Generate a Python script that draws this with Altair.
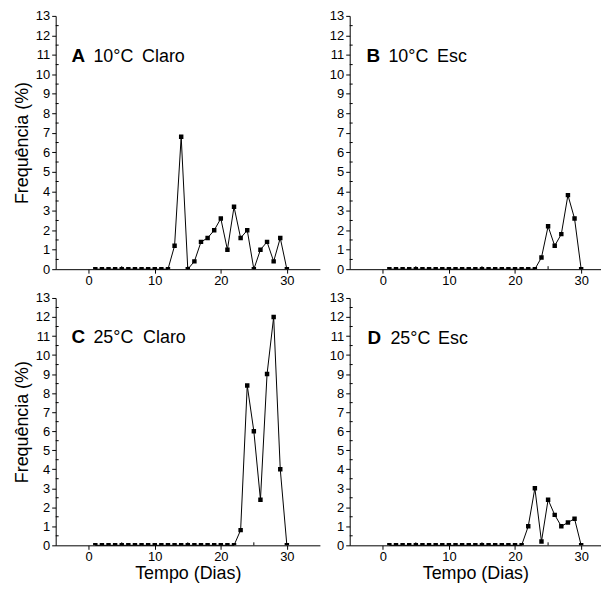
import altair as alt
import pandas as pd

days = list(range(1, 31))
freq_a = [0, 0, 0, 0, 0, 0, 0, 0, 0, 0, 0, 0, 1.2, 6.8, 0, 0.4, 1.4, 1.6, 2.0, 2.6,
          1.0, 3.2, 1.6, 2.0, 0, 1.0, 1.4, 0.4, 1.6, 0]
freq_b = [0, 0, 0, 0, 0, 0, 0, 0, 0, 0, 0, 0, 0, 0, 0, 0, 0, 0, 0, 0,
          0, 0, 0, 0.6, 2.2, 1.2, 1.8, 3.8, 2.6, 0]
freq_c = [0, 0, 0, 0, 0, 0, 0, 0, 0, 0, 0, 0, 0, 0, 0, 0, 0, 0, 0, 0,
          0, 0, 0.8, 8.4, 6.0, 2.4, 9.0, 12.0, 4.0, 0]
freq_d = [0, 0, 0, 0, 0, 0, 0, 0, 0, 0, 0, 0, 0, 0, 0, 0, 0, 0, 0, 0,
          0, 1.0, 3.0, 0.2, 2.4, 1.6, 1.0, 1.2, 1.4, 0]

panel_letters = ["A", "B", "C", "D"]
panel_temps = ["10°C", "10°C", "25°C", "25°C"]
panel_light = ["Claro", "Esc", "Claro", "Esc"]

y_ticks = list(range(0, 14))
y_minor = [0.5, 1.5, 2.5, 3.5, 4.5, 5.5, 6.5, 7.5, 8.5, 9.5, 10.5, 11.5, 12.5]
x_ticks = [0, 10, 20, 30]
x_minor = [5, 15, 25]

FONT = "Liberation Sans"


def panel(values, idx, w, h, xmax, ytitle, xtitle, tx):
    df = pd.DataFrame({"dia": days, "freq": values})
    xs = alt.Scale(domain=[-5, xmax], nice=False, zero=False)
    ys = alt.Scale(domain=[0, 13], nice=False)
    if xtitle:
        xaxis = alt.Axis(values=x_ticks, title=xtitle, titlePadding=1, labelPadding=1)
    else:
        xaxis = alt.Axis(values=x_ticks, title=None, labelPadding=1)
    if ytitle:
        yaxis = alt.Axis(values=y_ticks, title=ytitle, titlePadding=4, labelOverlap=False, labelPadding=2)
    else:
        yaxis = alt.Axis(values=y_ticks, title=None, labelOverlap=False, labelPadding=2)
    x = alt.X("dia:Q", scale=xs, axis=xaxis)
    y = alt.Y("freq:Q", scale=ys, axis=yaxis)
    line = alt.Chart(df).mark_line(color="black", strokeWidth=1).encode(x=x, y=y)
    pts = alt.Chart(df).mark_square(color="black", size=20, opacity=1, clip=True).encode(x=x, y=y)
    ymin = alt.Chart(pd.DataFrame({"v": y_minor})).mark_rule(color="black", strokeWidth=1).encode(
        y=alt.Y("v:Q", scale=ys, axis=yaxis), x=alt.value(0), x2=alt.value(3))
    xmin = alt.Chart(pd.DataFrame({"v": x_minor})).mark_rule(color="black", strokeWidth=1).encode(
        x=alt.X("v:Q", scale=xs, axis=xaxis), y=alt.value(h), y2=alt.value(h - 3))
    lx, tx2, tx3, ty = tx
    lab = pd.DataFrame({"l": [panel_letters[idx]], "t": [panel_temps[idx]], "c": [panel_light[idx]]})
    t1 = alt.Chart(lab).mark_text(font=FONT, fontSize=19, fontWeight="bold", align="left",
                                  baseline="alphabetic", color="black").encode(
        x=alt.value(lx), y=alt.value(ty), text="l:N")
    t2 = alt.Chart(lab).mark_text(font=FONT, fontSize=18, align="left",
                                  baseline="alphabetic", color="black").encode(
        x=alt.value(tx2), y=alt.value(ty), text="t:N")
    t3 = alt.Chart(lab).mark_text(font=FONT, fontSize=18, align="left",
                                  baseline="alphabetic", color="black").encode(
        x=alt.value(tx3), y=alt.value(ty), text="c:N")
    return alt.layer(line, pts, ymin, xmin, t1, t2, t3).properties(width=w, height=h)


pa = panel(freq_a, 0, 266, 255, 35, "Frequência (%)", None, (16, 38, 87, 46))
pb = panel(freq_b, 1, 253, 255, 33, None, None, (17, 39, 88, 46))
pc = panel(freq_c, 2, 266, 249, 35, "Frequência (%)", "Tempo (Dias)", (16, 38, 88, 45))
pd_ = panel(freq_d, 3, 253, 249, 33, None, "Tempo (Dias)", (18, 41, 89, 46))

chart = alt.vconcat(
    alt.hconcat(pa, pb, spacing=9),
    alt.hconcat(pc, pd_, spacing=9),
    spacing=5,
).properties(
    padding={"left": 5, "top": 0, "right": 0, "bottom": 0}
).configure_view(stroke=None).configure_axis(
    labelFont=FONT, labelFontSize=13, titleFont=FONT, titleFontSize=18, titleFontWeight="normal",
    domainColor="black", tickColor="black", labelColor="black", titleColor="black",
    grid=False, tickSize=4, domainWidth=1, tickWidth=1
)

chart.save("out.html", embed_options={"renderer": "svg", "actions": False})
